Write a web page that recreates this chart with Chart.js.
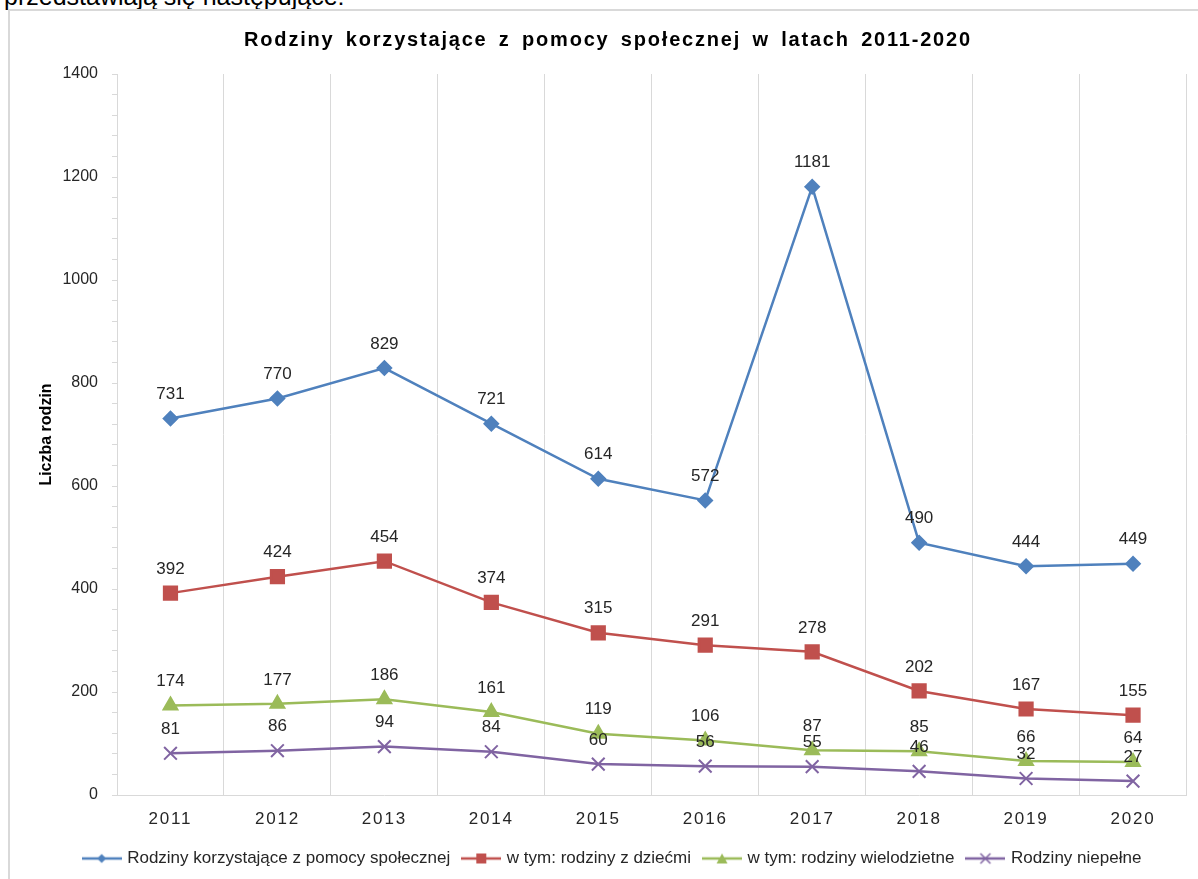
<!DOCTYPE html>
<html lang="pl">
<head>
    <meta charset="UTF-8">
    <title>Rodziny korzystające z pomocy społecznej</title>
    <script src="https://cdn.jsdelivr.net/npm/chart.js@4.4.1/dist/chart.umd.min.js"></script>
    <style>
        body {
            margin: 0;
            background: #fff;
            font-family: "Liberation Sans", Arial, sans-serif;
            overflow: hidden;
        }

        .lead {
            position: absolute;
            left: 4px;
            top: -16px;
            font-size: 25px;
            line-height: 25px;
            color: #000;
            white-space: nowrap;
        }

        .frame {
            position: absolute;
            left: 8px;
            top: 9px;
            width: 1300px;
            height: 1000px;
            border: 2px solid #d9d9d9;
        }

        canvas {
            position: absolute;
            left: 0;
            top: 0;
        }
    </style>
</head>
<body>
    <div class="lead">przedstawiają się następujące:</div>
    <div class="frame"></div>
    <canvas id="chart" width="1198" height="879"></canvas>

    <script>
        const years = ['2011', '2012', '2013', '2014', '2015', '2016', '2017', '2018', '2019', '2020'];
        const allFamilies = [731, 770, 829, 721, 614, 572, 1181, 490, 444, 449];
        const withChildren = [392, 424, 454, 374, 315, 291, 278, 202, 167, 155];
        const largeFamilies = [174, 177, 186, 161, 119, 106, 87, 85, 66, 64];
        const singleParent = [81, 86, 94, 84, 60, 56, 55, 46, 32, 27];

        const FONT = '"Liberation Sans", Arial, sans-serif';
        const TEXT = '#262626';

        // small "line + marker" pictures for the legend, like in Excel
        function legendIcon(color, shape) {
            const c = document.createElement('canvas');
            c.width = 40;
            c.height = 14;
            const g = c.getContext('2d');
            g.strokeStyle = color;
            g.fillStyle = color;
            g.lineWidth = 2.5;
            g.beginPath();
            g.moveTo(0, 7);
            g.lineTo(40, 7);
            g.stroke();
            g.beginPath();
            if (shape === 'diamond') {
                g.moveTo(20, 2.5); g.lineTo(24.5, 7); g.lineTo(20, 11.5); g.lineTo(15.5, 7);
                g.closePath(); g.fill();
            } else if (shape === 'square') {
                g.rect(15, 2, 10, 10); g.fill();
            } else if (shape === 'triangle') {
                g.moveTo(20, 2); g.lineTo(25.5, 12); g.lineTo(14.5, 12);
                g.closePath(); g.fill();
            } else {
                g.lineWidth = 1.5;
                g.moveTo(15, 2); g.lineTo(25, 12);
                g.moveTo(25, 2); g.lineTo(15, 12);
                g.stroke();
            }
            return c;
        }

        const valueLabels = {
            id: 'valueLabels',
            afterDatasetsDraw(chart) {
                const ctx = chart.ctx;
                ctx.save();
                ctx.font = '17px ' + FONT;
                ctx.fillStyle = TEXT;
                ctx.textAlign = 'center';
                ctx.textBaseline = 'middle';
                chart.data.datasets.forEach((ds, i) => {
                    chart.getDatasetMeta(i).data.forEach((pt, j) => {
                        ctx.fillText(String(ds.data[j]), pt.x, pt.y - 24);
                    });
                });
                ctx.restore();
            }
        };

        const chartTitle = {
            id: 'chartTitle',
            afterDraw(chart) {
                const ctx = chart.ctx;
                ctx.save();
                ctx.font = 'bold 20px ' + FONT;
                ctx.fillStyle = '#000';
                ctx.textAlign = 'center';
                ctx.textBaseline = 'middle';
                ctx.letterSpacing = '1.8px';
                ctx.wordSpacing = '4px';
                ctx.fillText('Rodziny korzystające z pomocy społecznej w latach 2011-2020', 608, 40);
                ctx.restore();
            }
        };

        // x tick labels in the reference are spaced out
        const spacedYears = {
            id: 'spacedYears',
            afterLayout(chart) {
                const s = chart.scales.x;
                if (s._spaced) return;
                const orig = s.drawLabels;
                s.drawLabels = function (area) {
                    this.ctx.save();
                    this.ctx.letterSpacing = '1.8px';
                    orig.call(this, area);
                    this.ctx.restore();
                };
                s._spaced = true;
            }
        };

        const icons = [
            legendIcon('#4f81bd', 'diamond'),
            legendIcon('#c0504d', 'square'),
            legendIcon('#9bbb59', 'triangle'),
            legendIcon('#8064a2', 'cross')
        ];

        const chart = new Chart(document.getElementById('chart'), {
            type: 'line',
            data: {
                labels: years,
                datasets: [
                    {
                        label: 'Rodziny korzystające z pomocy społecznej',
                        data: allFamilies,
                        borderColor: '#4f81bd',
                        backgroundColor: '#4f81bd',
                        pointStyle: 'rectRot',
                        pointRadius: 6.5,
                        borderWidth: 2.5
                    },
                    {
                        label: 'w tym: rodziny z dziećmi',
                        data: withChildren,
                        borderColor: '#c0504d',
                        backgroundColor: '#c0504d',
                        pointStyle: 'rect',
                        pointRadius: 9,
                        borderWidth: 2.5
                    },
                    {
                        label: 'w tym: rodziny wielodzietne',
                        data: largeFamilies,
                        borderColor: '#9bbb59',
                        backgroundColor: '#9bbb59',
                        pointStyle: 'triangle',
                        pointRadius: 7.5,
                        borderWidth: 2.5
                    },
                    {
                        label: 'Rodziny niepełne',
                        data: singleParent,
                        borderColor: '#8064a2',
                        backgroundColor: '#8064a2',
                        pointStyle: 'crossRot',
                        pointRadius: 9,
                        pointBorderWidth: 2,
                        borderWidth: 2.5
                    }
                ]
            },
            options: {
                responsive: false,
                animation: false,
                layout: {
                    padding: { left: 36, right: 8, top: 74, bottom: 2 }
                },
                plugins: {
                    title: { display: false },
                    tooltip: { enabled: false },
                    legend: {
                        position: 'bottom',
                        labels: {
                            usePointStyle: true,
                            pointStyleWidth: 34,
                            boxHeight: 14,
                            padding: 14,
                            color: TEXT,
                            font: { family: FONT, size: 17 },
                            generateLabels(c) {
                                const items = Chart.defaults.plugins.legend.labels.generateLabels(c);
                                items.forEach((it, i) => { it.pointStyle = icons[i]; });
                                return items;
                            }
                        }
                    }
                },
                scales: {
                    x: {
                        offset: true,
                        grid: {
                            offset: true,
                            color: '#d9d9d9',
                            drawTicks: false
                        },
                        border: { color: '#d9d9d9', width: 1 },
                        ticks: {
                            color: TEXT,
                            padding: 14,
                            font: { family: FONT, size: 17 }
                        },
                        afterFit(s) { s.height = 41; }
                    },
                    y: {
                        min: 0,
                        max: 1400,
                        grid: {
                            drawOnChartArea: false,
                            drawTicks: true,
                            tickLength: 5,
                            color: '#d9d9d9'
                        },
                        border: { color: '#d9d9d9', width: 1 },
                        ticks: {
                            stepSize: 40,
                            autoSkip: false,
                            padding: 14,
                            color: TEXT,
                            font: { family: FONT, size: 16 },
                            callback: v => (v % 200 === 0 ? String(v) : '')
                        },
                        title: {
                            display: true,
                            text: 'Liczba rodzin',
                            color: '#000',
                            font: { family: FONT, size: 16, weight: 'bold' },
                            padding: { top: 1, bottom: 0 }
                        },
                        afterFit(s) { s.width = 81; }
                    }
                }
            },
            plugins: [valueLabels, chartTitle, spacedYears]
        });
        chart.draw();
    </script>
</body>
</html>
